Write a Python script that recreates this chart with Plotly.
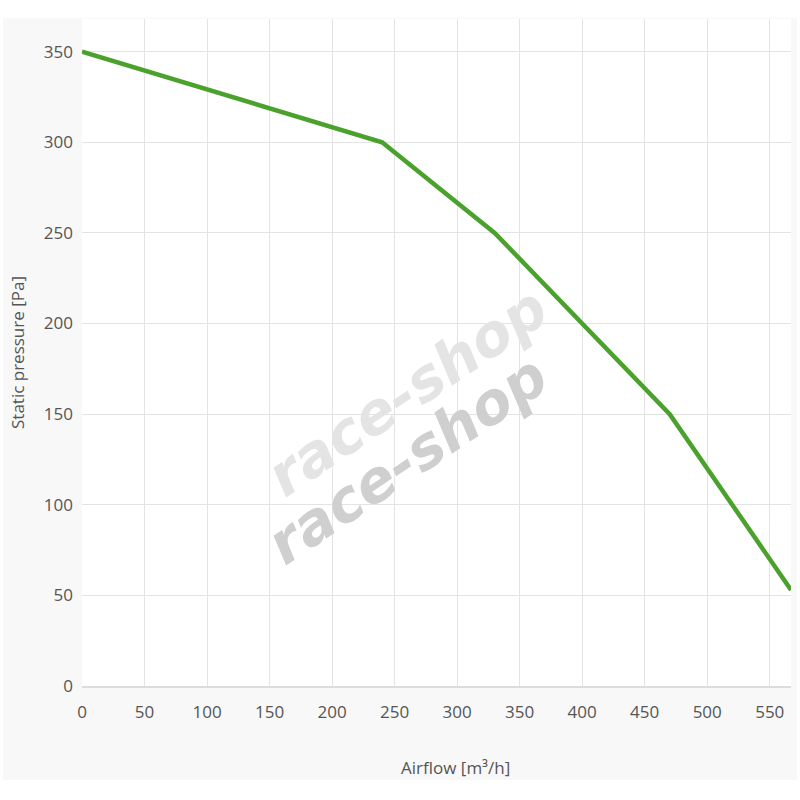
import plotly.graph_objects as go

airflow = [0, 240, 330, 470, 567]
pressure = [350, 300, 250, 150, 53]
x_ticks = [0, 50, 100, 150, 200, 250, 300, 350, 400, 450, 500, 550]
y_ticks = [0, 50, 100, 150, 200, 250, 300, 350]

fig = go.Figure()
fig.add_trace(go.Scatter(
    x=airflow, y=pressure, mode="lines",
    line=dict(color="#4aa22d", width=4.5),
    hoverinfo="x+y", showlegend=False,
))

L, R, T, B = 82, 9, 19, 114
W, H = 800 - L - R, 800 - T - B

fig.update_layout(
    width=800, height=800,
    margin=dict(l=L, r=R, t=T, b=B, pad=0),
    paper_bgcolor="white", plot_bgcolor="white",
    font=dict(family="Open Sans, sans-serif", color="#555555", size=17),
    shapes=[
        dict(type="rect", xref="paper", yref="paper",
             x0=(3 - L) / W, x1=(797 - L) / W,
             y0=(686 - 780) / H, y1=(686 - 18) / H,
             fillcolor="#f8f8f8", line=dict(width=0), layer="below"),
        dict(type="rect", xref="paper", yref="paper",
             x0=0, x1=1, y0=0, y1=1,
             fillcolor="white", line=dict(width=0), layer="below"),
    ],
    annotations=[
        dict(text="<b><i>race-shop</i></b>", x=(407 - L) / W, y=(686 - 392) / H,
             xref="paper", yref="paper", showarrow=False, textangle=-34,
             font=dict(size=58, color="#e4e4e4", family="DejaVu Sans")),
        dict(text="<b><i>race-shop</i></b>", x=(407 - L) / W, y=(686 - 460) / H,
             xref="paper", yref="paper", showarrow=False, textangle=-34,
             font=dict(size=58, color="#cfcfcf", family="DejaVu Sans")),
        dict(text="Airflow [m³/h]", x=(456 - L) / W, y=(686 - 767) / H,
             xref="paper", yref="paper", showarrow=False,
             xanchor="center", yanchor="middle",
             font=dict(size=17, color="#555555")),
        dict(text="Static pressure [Pa]", x=(17 - L) / W, y=(686 - 353) / H,
             xref="paper", yref="paper", showarrow=False, textangle=-90,
             xanchor="center", yanchor="middle",
             font=dict(size=17, color="#555555")),
    ],
)

fig.update_xaxes(
    range=[0, 567], tickvals=x_ticks, ticktext=[str(v) for v in x_ticks],
    showgrid=True, gridcolor="#e3e3e3", gridwidth=1,
    zeroline=False, showline=True, linecolor="#dcdcdc", linewidth=2,
    ticks="", ticklabelstandoff=10, tickfont=dict(size=17, color="#555555"),
)
fig.update_yaxes(
    range=[0, 368], tickvals=y_ticks, ticktext=[str(v) for v in y_ticks],
    showgrid=True, gridcolor="#e3e3e3", gridwidth=1,
    zeroline=False, showline=False,
    ticks="", ticklabelstandoff=8, tickfont=dict(size=17, color="#555555"),
)

fig.write_html("out.html", config={"displayModeBar": False},
               post_script="document.body.style.margin='0';")
